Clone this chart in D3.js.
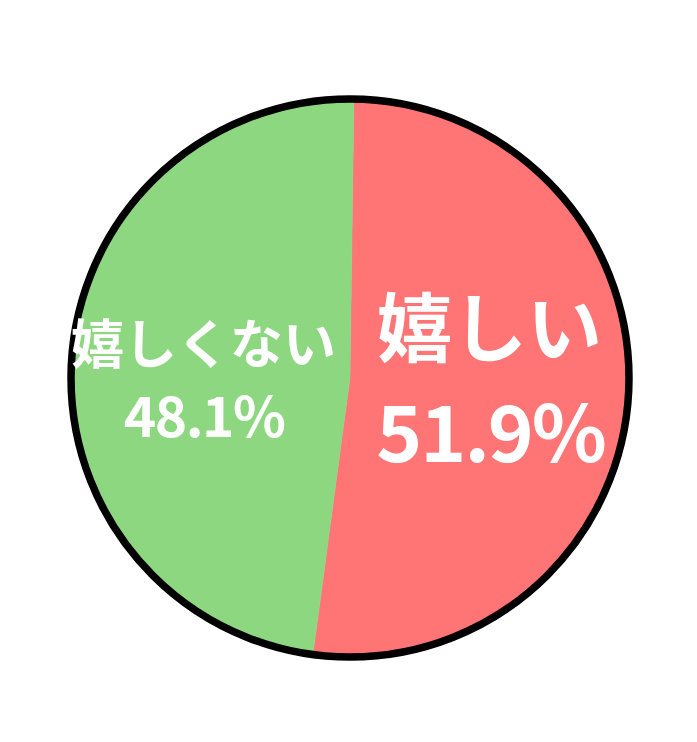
<!DOCTYPE html>
<html>
<head>
<meta charset="utf-8">
<script src="https://cdn.jsdelivr.net/npm/d3@7"></script>
<style>
  html, body { margin: 0; padding: 0; background: #fff; }
  svg { display: block; }
</style>
</head>
<body>
<svg id="chart"></svg>
<script>
// Chart data
const labels = ['嬉しい', '嬉しくない'];
const values = [51.9, 48.1];
const colors = ['#ff7575', '#8dd780'];

const width = 697;
const height = 742;
const cx = 350;
const cy = 378;
const radius = 279;
const startAngle = 0.014; // pie is rotated a hair clockwise

// label styling per slice (name size, percent size, radius for label, offsets)
const labelStyle = [
    { nameSize: 75, pctSize: 78, r: 140, nameDy: -32, pctDy: 74, ls: -2 },
    { nameSize: 53, pctSize: 55, r: 147, nameDy: -3, pctDy: 70, ls: -1.5 }
];

const svg = d3.select('#chart')
    .attr('width', width)
    .attr('height', height);

const g = svg.append('g')
    .attr('transform', `translate(${cx},${cy})`);

const pie = d3.pie()
    .sort(null)
    .startAngle(startAngle)
    .endAngle(startAngle + 2 * Math.PI)
    .value(d => d);
const arcs = pie(values);

const arc = d3.arc().innerRadius(0).outerRadius(radius);

g.selectAll('path.slice')
    .data(arcs)
    .enter().append('path')
    .attr('class', 'slice')
    .attr('d', arc)
    .attr('fill', (d, i) => colors[i])
    .attr('stroke', (d, i) => colors[i])
    .attr('stroke-width', 0.5);

// Outer ring
g.append('circle')
    .attr('r', radius)
    .attr('fill', 'none')
    .attr('stroke', '#000')
    .attr('stroke-width', 7.5);

// Labels
const labelGroups = g.selectAll('g.label')
    .data(arcs)
    .enter().append('g')
    .attr('class', 'label')
    .attr('transform', (d, i) => {
        const a = (d.startAngle + d.endAngle) / 2;
        const r = labelStyle[i].r;
        return `translate(${r * Math.sin(a)},${-r * Math.cos(a)})`;
    });

labelGroups.append('text')
    .attr('text-anchor', 'middle')
    .attr('y', (d, i) => labelStyle[i].nameDy)
    .attr('font-family', '"Noto Sans CJK JP", "Noto Sans", sans-serif')
    .attr('font-weight', 'bold')
    .attr('font-size', (d, i) => labelStyle[i].nameSize)
    .attr('fill', '#fff')
    .text((d, i) => labels[i]);

labelGroups.append('text')
    .attr('text-anchor', 'middle')
    .attr('y', (d, i) => labelStyle[i].pctDy)
    .attr('x', (d, i) => -labelStyle[i].ls / 2)
    .attr('font-family', '"Noto Sans CJK JP", "Noto Sans", sans-serif')
    .attr('font-weight', 'bold')
    .attr('font-size', (d, i) => labelStyle[i].pctSize)
    .attr('letter-spacing', (d, i) => labelStyle[i].ls)
    .attr('fill', '#fff')
    .text((d, i) => values[i].toFixed(1) + '%');
</script>
</body>
</html>
